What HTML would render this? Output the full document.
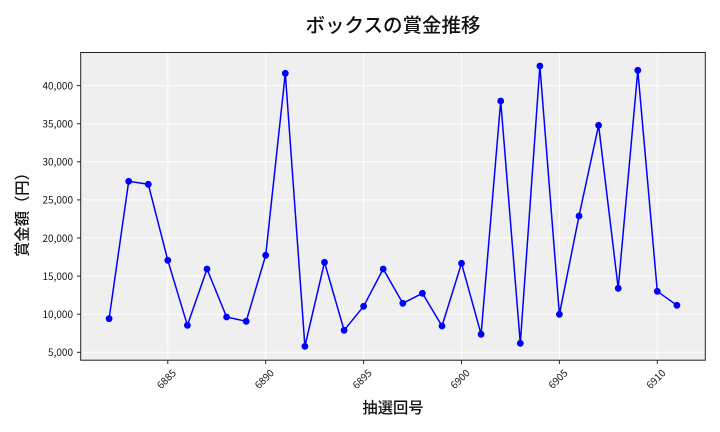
<!DOCTYPE html>
<html><head><meta charset="utf-8"><style>
html,body{margin:0;padding:0;background:#fff;}
svg{display:block;}
text{font-family:"Noto Sans CJK JP","Liberation Sans",sans-serif;fill:#111;}
.tk{font-size:10px;}
</style></head><body>
<svg width="720" height="432" viewBox="0 0 720 432" xmlns="http://www.w3.org/2000/svg">
<rect x="0" y="0" width="720" height="432" fill="#fff"/>
<rect x="80.7" y="52.5" width="624.6" height="307.7" fill="#efefef"/>
<g stroke="#fff" stroke-width="1">
<line x1="80.7" x2="705.3" y1="352.3" y2="352.3"/>
<line x1="80.7" x2="705.3" y1="314.2" y2="314.2"/>
<line x1="80.7" x2="705.3" y1="276.1" y2="276.1"/>
<line x1="80.7" x2="705.3" y1="238.0" y2="238.0"/>
<line x1="80.7" x2="705.3" y1="199.9" y2="199.9"/>
<line x1="80.7" x2="705.3" y1="161.8" y2="161.8"/>
<line x1="80.7" x2="705.3" y1="123.7" y2="123.7"/>
<line x1="80.7" x2="705.3" y1="85.6" y2="85.6"/>
<line y1="52.5" y2="360.2" x1="167.8" x2="167.8"/>
<line y1="52.5" y2="360.2" x1="265.7" x2="265.7"/>
<line y1="52.5" y2="360.2" x1="363.6" x2="363.6"/>
<line y1="52.5" y2="360.2" x1="461.5" x2="461.5"/>
<line y1="52.5" y2="360.2" x1="559.4" x2="559.4"/>
<line y1="52.5" y2="360.2" x1="657.3" x2="657.3"/>
</g>
<polyline fill="none" stroke="#0000ff" stroke-width="1.5" stroke-linejoin="round" points="109.1,318.7 128.7,181.3 148.3,184.3 167.8,260.3 187.4,325.3 207.0,269 226.6,317 246.2,321.3 265.7,255.3 285.3,73.3 304.9,346.3 324.5,262.3 344.1,330.3 363.6,306.3 383.2,269 402.8,303.3 422.4,293.3 442.0,326 461.5,263.3 481.1,334.3 500.7,101 520.3,343.3 539.9,66 559.4,314.3 579.0,216 598.6,125.3 618.2,288.3 637.8,70.3 657.3,291.3 676.9,305.3"/>
<g fill="#0000ff">
<circle cx="109.1" cy="318.7" r="3.4"/><circle cx="128.7" cy="181.3" r="3.4"/><circle cx="148.3" cy="184.3" r="3.4"/><circle cx="167.8" cy="260.3" r="3.4"/><circle cx="187.4" cy="325.3" r="3.4"/><circle cx="207.0" cy="269" r="3.4"/><circle cx="226.6" cy="317" r="3.4"/><circle cx="246.2" cy="321.3" r="3.4"/><circle cx="265.7" cy="255.3" r="3.4"/><circle cx="285.3" cy="73.3" r="3.4"/><circle cx="304.9" cy="346.3" r="3.4"/><circle cx="324.5" cy="262.3" r="3.4"/><circle cx="344.1" cy="330.3" r="3.4"/><circle cx="363.6" cy="306.3" r="3.4"/><circle cx="383.2" cy="269" r="3.4"/><circle cx="402.8" cy="303.3" r="3.4"/><circle cx="422.4" cy="293.3" r="3.4"/><circle cx="442.0" cy="326" r="3.4"/><circle cx="461.5" cy="263.3" r="3.4"/><circle cx="481.1" cy="334.3" r="3.4"/><circle cx="500.7" cy="101" r="3.4"/><circle cx="520.3" cy="343.3" r="3.4"/><circle cx="539.9" cy="66" r="3.4"/><circle cx="559.4" cy="314.3" r="3.4"/><circle cx="579.0" cy="216" r="3.4"/><circle cx="598.6" cy="125.3" r="3.4"/><circle cx="618.2" cy="288.3" r="3.4"/><circle cx="637.8" cy="70.3" r="3.4"/><circle cx="657.3" cy="291.3" r="3.4"/><circle cx="676.9" cy="305.3" r="3.4"/>
</g>
<rect x="80.7" y="52.5" width="624.6" height="307.7" fill="none" stroke="#222" stroke-width="1"/>
<g stroke="#222" stroke-width="1">
<line x1="77" x2="80.7" y1="352.3" y2="352.3"/>
<line x1="77" x2="80.7" y1="314.2" y2="314.2"/>
<line x1="77" x2="80.7" y1="276.1" y2="276.1"/>
<line x1="77" x2="80.7" y1="238.0" y2="238.0"/>
<line x1="77" x2="80.7" y1="199.9" y2="199.9"/>
<line x1="77" x2="80.7" y1="161.8" y2="161.8"/>
<line x1="77" x2="80.7" y1="123.7" y2="123.7"/>
<line x1="77" x2="80.7" y1="85.6" y2="85.6"/>
<line y1="360.2" y2="364" x1="167.8" x2="167.8"/>
<line y1="360.2" y2="364" x1="265.7" x2="265.7"/>
<line y1="360.2" y2="364" x1="363.6" x2="363.6"/>
<line y1="360.2" y2="364" x1="461.5" x2="461.5"/>
<line y1="360.2" y2="364" x1="559.4" x2="559.4"/>
<line y1="360.2" y2="364" x1="657.3" x2="657.3"/>
</g>
<g class="tk" text-anchor="end">
<text x="73" y="356.1">5,000</text>
<text x="73" y="318.0">10,000</text>
<text x="73" y="279.9">15,000</text>
<text x="73" y="241.8">20,000</text>
<text x="73" y="203.7">25,000</text>
<text x="73" y="165.6">30,000</text>
<text x="73" y="127.5">35,000</text>
<text x="73" y="89.4">40,000</text>
</g>
<g class="tk" text-anchor="middle">
<text transform="translate(166.4,379) rotate(-45)" x="0" y="3.6">6885</text>
<text transform="translate(264.3,379) rotate(-45)" x="0" y="3.6">6890</text>
<text transform="translate(362.2,379) rotate(-45)" x="0" y="3.6">6895</text>
<text transform="translate(460.1,379) rotate(-45)" x="0" y="3.6">6900</text>
<text transform="translate(558.0,379) rotate(-45)" x="0" y="3.6">6905</text>
<text transform="translate(655.9,379) rotate(-45)" x="0" y="3.6">6910</text>
</g>
<text x="393" y="32" text-anchor="middle" font-size="19.5" font-weight="500">ボックスの賞金推移</text>
<text x="393" y="413" text-anchor="middle" font-size="15.3" font-weight="500">抽選回号</text>
<text transform="translate(27.3,211) rotate(-90)" x="0" y="0" text-anchor="middle" font-size="15.3" font-weight="500">賞金額（円）</text>
</svg>
</body></html>
